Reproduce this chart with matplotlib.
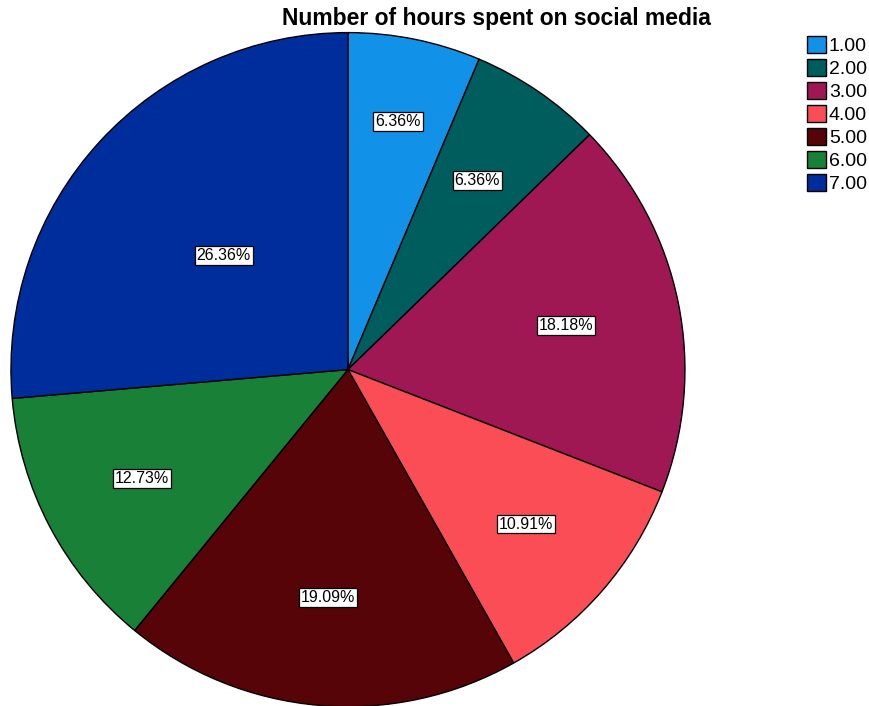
import matplotlib
matplotlib.use("Agg")
import matplotlib.pyplot as plt
import numpy as np

plt.rcParams["font.family"] = ["Liberation Sans", "DejaVu Sans"]

# respondents per hours-per-day group (n = 110)
categorias = ["1.00", "2.00", "3.00", "4.00", "5.00", "6.00", "7.00"]
conteos = [7, 7, 20, 12, 21, 14, 29]
colores = ["#1192E8", "#005D5D", "#9F1853", "#FA4D56", "#570408", "#198038", "#002D9C"]
# distancia radial de cada etiqueta
dist_etiquetas = [0.75, 0.68, 0.66, 0.70, 0.68, 0.69, 0.50]

fig = plt.figure(figsize=(8.7, 7.06), dpi=100)
ax = fig.add_axes([0.0126, -0.001, 0.7747, 0.955])

wedges, _ = ax.pie(conteos, colors=colores, startangle=90, counterclock=False,
                   radius=1, wedgeprops=dict(edgecolor="black", linewidth=1.0))
ax.set_xlim(-1.0, 1.0)
ax.set_ylim(-1.0, 1.0)
ax.set_aspect("equal")

total = sum(conteos)
for w, n, d in zip(wedges, conteos, dist_etiquetas):
    ang = np.deg2rad((w.theta1 + w.theta2) / 2)
    ax.text(d * np.cos(ang), d * np.sin(ang), f"{100 * n / total:.2f}%",
            ha="center", va="center", fontsize=11.5, color="black",
            bbox=dict(boxstyle="square,pad=0.12", facecolor="white",
                      edgecolor="black", linewidth=0.9))

fig.text(0.571, 0.974, "Number of hours spent on social media",
         ha="center", va="center", fontsize=16.5, fontweight="bold")

fig.legend(wedges, categorias, loc="upper left", bbox_to_anchor=(0.928, 0.949),
           frameon=False, fontsize=14, handlelength=0.95, handleheight=0.95,
           handletextpad=0.15, labelspacing=0.2, borderpad=0.0, borderaxespad=0.0)

fig.savefig("out.png", dpi=100)
